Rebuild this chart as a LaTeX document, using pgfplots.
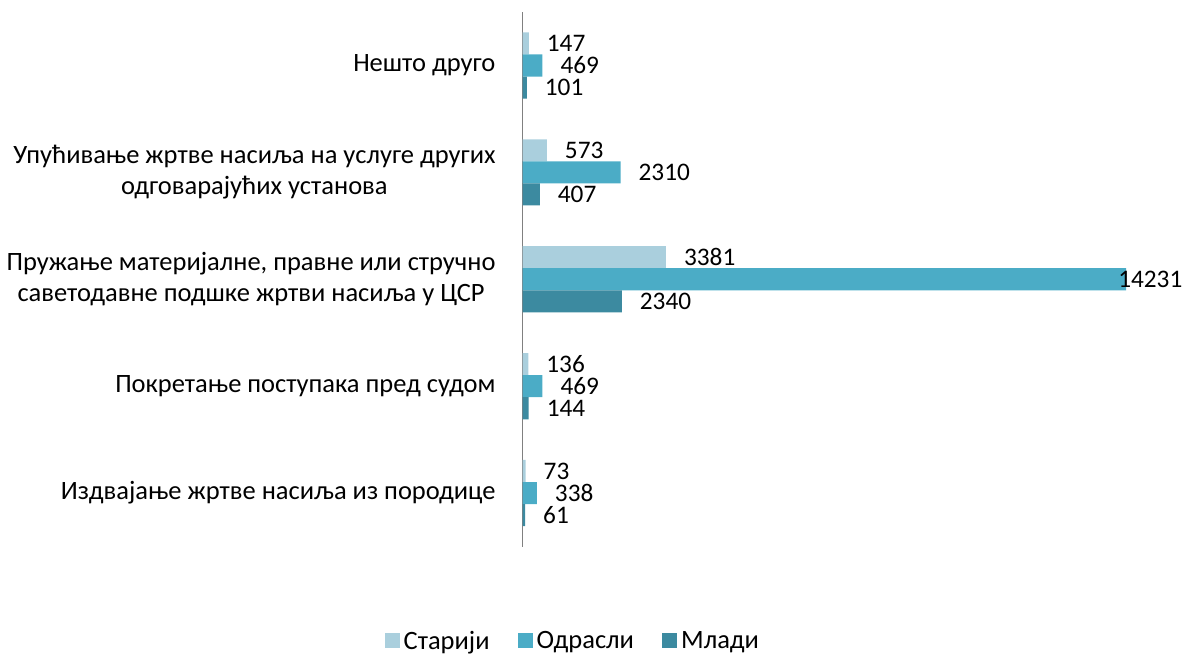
\documentclass[border=0pt]{standalone}
\usepackage{pgfplots}
\pgfplotsset{compat=1.18}
\usepackage{fontspec}
\setmainfont{Carlito}
\definecolor{stariji}{HTML}{AACFDD}
\definecolor{odrasli}{HTML}{4BACC6}
\definecolor{mladi}{HTML}{3C8AA0}
\begin{document}
\begin{tikzpicture}
\begin{axis}[
  scale only axis, width=301pt, height=266.5pt,
  xmin=0, xmax=14231, ymin=-0.5, ymax=4.5,
  xbar, bar width=11pt, clip=false,
  hide x axis,
  axis y line*=left,
  y axis line style={-, draw=gray, line width=0.8pt},
  ytick={0,1,2,3,4},
  yticklabels={Издвајање жртве насиља из породице,
    Покретање поступака пред судом,
    {Пружање материјалне, правне или стручно\\саветодавне подшке жртви насиља у ЦСР},
    {Упућивање жртве насиља на услуге других\\одговарајућих установа},
    Нешто друго},
  yticklabel style={align=center, font=\fontsize{13.2}{15.5}\selectfont, xshift=-10pt},
  major tick length=0pt,
  /pgf/number format/assume math mode=true,
  /pgf/number format/1000 sep={},
  nodes near coords,
  nodes near coords style={font=\fontsize{12.6}{14}\selectfont, anchor=west, black,
    inner ysep=0pt, text height=8.2pt, text depth=0pt},
  visualization depends on={rawx \as \rawxval},
  every node near coord/.append style={xshift={ifthenelse(\rawxval>10000,-7.5,5.5)}},
  legend style={draw=none, legend columns=3, at={(0.085,-0.178)}, anchor=center,
    font=\fontsize{13.2}{15}\selectfont,
    /tikz/every even column/.append style={column sep=12pt}},
  legend image code/.code={\fill[#1] (0pt,-3pt) rectangle (7.5pt,4.5pt);},
]
\addplot[fill=stariji, draw=none, bar shift=11pt] coordinates {(73,0) (136,1) (3381,2) (573,3) (147,4)};
\addplot[fill=odrasli, draw=none, bar shift=0pt] coordinates {(338,0) (469,1) (14231,2) (2310,3) (469,4)};
\addplot[fill=mladi, draw=none, bar shift=-11pt] coordinates {(61,0) (144,1) (2340,2) (407,3) (101,4)};
\legend{Старији, Одрасли, Млади}
\coordinate (top) at (rel axis cs:0,1);
\end{axis}
\path (top) ++(0,6pt) coordinate (pad);
\end{tikzpicture}
\end{document}
